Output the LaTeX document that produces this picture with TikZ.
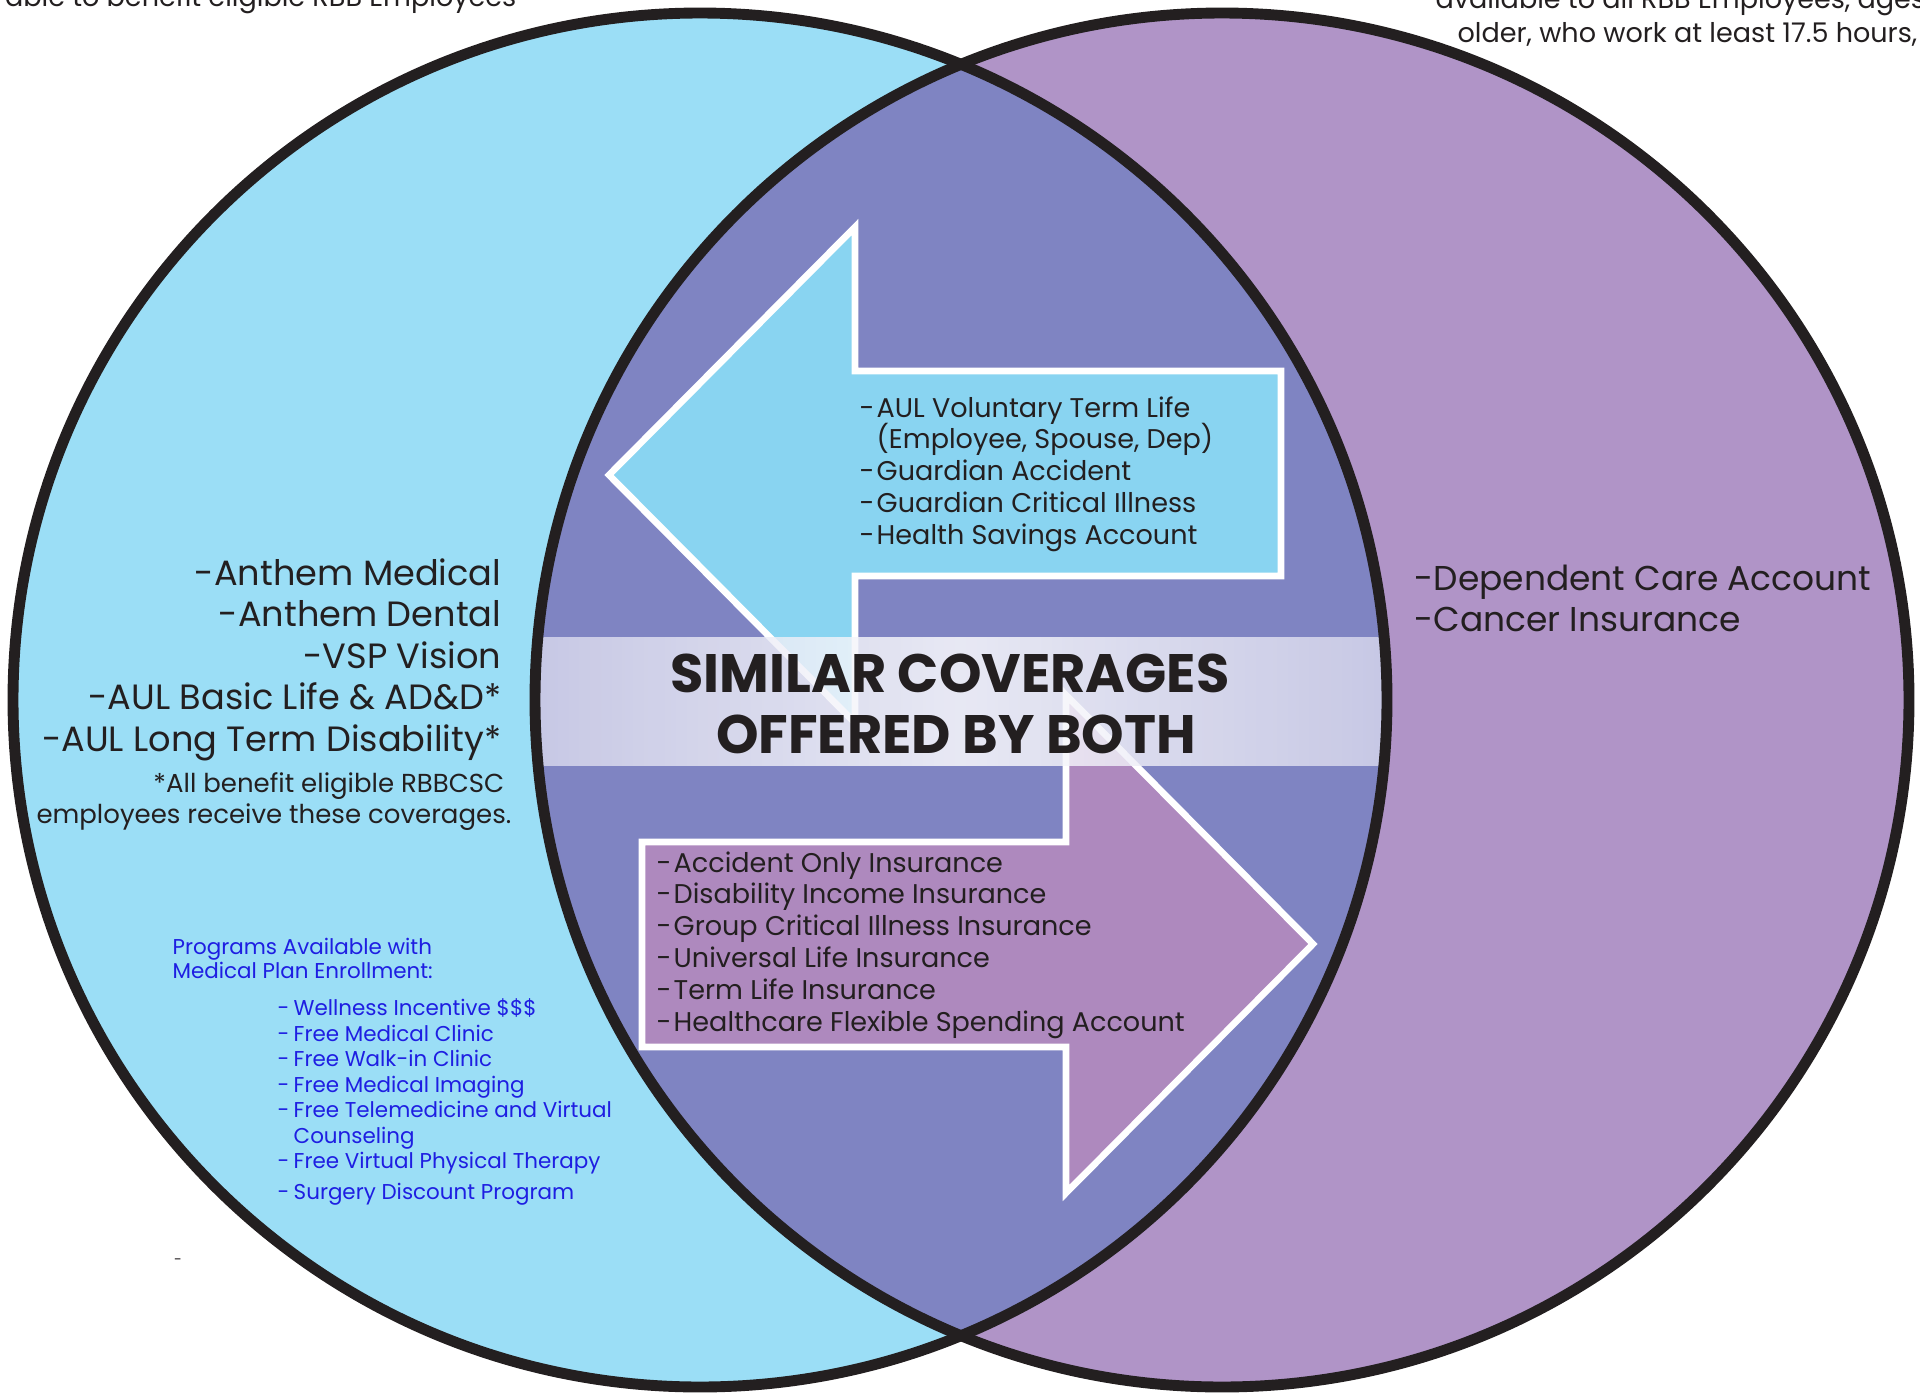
\documentclass[tikz,border=0pt]{standalone}
\usepackage{fontspec}
\setmainfont{Poppins}
\definecolor{ink}{RGB}{35,31,32}
\definecolor{leftblue}{RGB}{155,222,246}
\definecolor{rightlilac}{RGB}{176,148,199}
\definecolor{lens}{RGB}{127,132,194}
\definecolor{arrowblue}{RGB}{137,212,241}
\definecolor{arrowlilac}{RGB}{174,137,190}
\definecolor{bandedge}{RGB}{214,214,236}
\definecolor{linkblue}{RGB}{30,30,226}
\begin{document}
\begin{tikzpicture}[x=0.1mm,y=-0.1mm,
  ring/.style={draw=ink,line width=3.1pt},
  bigarrow/.style={draw=white,line width=1.9pt},
  bigitem/.style={text=ink,inner sep=0pt,font=\fontsize{10}{12}\selectfont},
  noteitem/.style={text=ink,inner sep=0pt,font=\fontsize{7.4}{9}\selectfont},
  toptext/.style={text=ink,inner sep=0pt,font=\fontsize{7.7}{9}\selectfont},
  arrowitem/.style={text=ink,inner sep=0pt,anchor=base west,font=\fontsize{7.7}{9}\selectfont},
  progitem/.style={text=linkblue,inner sep=0pt,anchor=base west,font=\fontsize{6.1}{7}\selectfont},
  headline/.style={text=ink,inner sep=0pt,anchor=base,font=\bfseries\fontsize{15.4}{18}\selectfont}]
\useasboundingbox (0,0) rectangle (1920,1393);
% the two sets and their overlap
\fill[leftblue] (700,700) circle[radius=68.7mm];
\fill[rightlilac] (1222,700) circle[radius=68.7mm];
\begin{scope}
  \clip (700,700) circle[radius=68.7mm];
  \fill[lens] (1222,700) circle[radius=68.7mm];
\end{scope}
% arrows
\draw[bigarrow,fill=arrowblue] (609,475) -- (855,227) -- (855,371) -- (1281,371)
  -- (1281,576) -- (855,576) -- (855,723) -- cycle;
\draw[bigarrow,fill=arrowlilac] (1313,944) -- (1066,695) -- (1066,842) -- (642,842)
  -- (642,1047) -- (1066,1047) -- (1066,1193) -- cycle;
% band across the overlap
\begin{scope}
  \clip (700,700) circle[radius=68.7mm];
  \clip (1222,700) circle[radius=68.7mm];
  \shade[left color=bandedge,right color=bandedge,middle color=white,fill opacity=0.82]
    (520,637) rectangle (1400,765);
\end{scope}
\draw[ring] (700,700) circle[radius=68.7mm];
\draw[ring] (1222,700) circle[radius=68.7mm];
% top notes
\node[toptext,anchor=base east] (lefttop) at (517,7) {able to benefit eligible RBB Employees};
\node[toptext,anchor=base west] (righttop1) at (1420,9) {-available to all RBB Employees, ages};
\node[toptext,anchor=base east] (righttop2) at (1918,43) {older, who work at least 17.5 hours,};
% left set
\foreach \txt [count=\i] in {-Anthem Medical,-Anthem Dental,-VSP Vision,
    -AUL Basic Life \& AD\&D*,-AUL Long Term Disability*}
  \node[bigitem,anchor=base east] (core\i) at (502,{585+41.5*(\i-1)}) {\txt};
\node[noteitem,anchor=base east] (note1) at (505,792) {*All benefit eligible RBBCSC};
\node[noteitem,anchor=base east] (note2) at (512,823) {employees receive these coverages.};
\node[progitem] (proghead1) at (172,954) {Programs Available with};
\node[progitem] (proghead2) at (172,978) {Medical Plan Enrollment:};
\foreach \dsh/\txt/\yy [count=\i] in {-/Wellness Incentive \$\$\$/1015,-/Free Medical Clinic/1041,
    -/Free Walk-in Clinic/1066,-/Free Medical Imaging/1092,-/Free Telemedicine and Virtual/1117,
    /Counseling/1143,-/Free Virtual Physical Therapy/1168,-/Surgery Discount Program/1199}
  \node[progitem] (prog\i) at (277,\yy) {\makebox[1.6mm][l]{\dsh}\txt};
\node[text=ink,inner sep=0pt,font=\fontsize{4}{5}\selectfont] (stray) at (178,1262) {-};
% right set
\node[bigitem,anchor=base west,font=\fontsize{9.8}{12}\selectfont] (own1) at (1414,590) {-Dependent Care Account};
\node[bigitem,anchor=base west,font=\fontsize{9.8}{12}\selectfont] (own2) at (1414,631) {-Cancer Insurance};
% overlap
\foreach \dsh/\txt [count=\i] in {-/AUL Voluntary Term Life,/{(Employee, Spouse, Dep)},
    -/Guardian Accident,-/Guardian Critical Illness,-/Health Savings Account}
  \node[arrowitem] (both\i) at (859,{417+31.8*(\i-1)}) {\makebox[1.7mm][l]{\dsh}\txt};
\foreach \txt [count=\i] in {Accident Only Insurance,Disability Income Insurance,
    Group Critical Illness Insurance,Universal Life Insurance,Term Life Insurance,
    Healthcare Flexible Spending Account}
  \node[arrowitem] (alt\i) at (656,{872+31.8*(\i-1)}) {\makebox[1.7mm][l]{-}\txt};
\node[headline] (title1) at (950,692) {SIMILAR COVERAGES};
\node[headline] (title2) at (956,753) {OFFERED BY BOTH};
\end{tikzpicture}
\end{document}
